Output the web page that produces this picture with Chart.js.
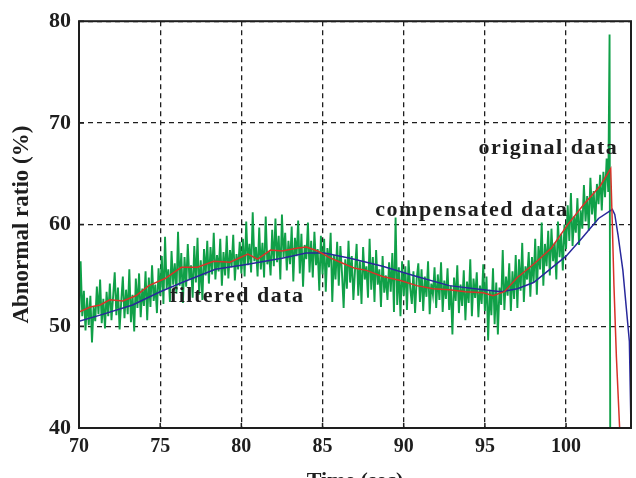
<!DOCTYPE html>
<html>
<head>
<meta charset="utf-8">
<script src="https://cdn.jsdelivr.net/npm/chart.js@4/dist/chart.umd.min.js"></script>
<style>
  html, body { margin: 0; padding: 0; background: #fff; overflow: hidden; }
  #wrap { width: 636px; height: 499px; }
</style>
</head>
<body>
<div id="wrap"><canvas id="myChart"></canvas></div>
<script>
let greenStart = 70;
let greenStep = 0.1;
let greenValues = [
  50.2, 56.4, 51.0, 53.5, 49.6, 52.8, 50.1, 53.0, 48.4, 51.9,
  50.5, 53.9, 51.2, 54.6, 50.3, 52.7, 49.8, 53.4, 51.0, 54.2,
  50.6, 52.9, 55.3, 51.1, 53.8, 49.7, 52.4, 54.9, 50.8, 53.6,
  51.2, 55.6, 50.4, 53.1, 49.5, 54.7, 51.8, 55.2, 50.9, 53.7,
  52.0, 55.4, 50.6, 54.8, 51.9, 56.0, 52.5, 54.1, 51.3, 55.7,
  53.0, 56.9, 52.2, 58.8, 53.7, 55.6, 52.4, 57.4, 54.1, 56.2,
  53.2, 59.3, 54.0, 57.2, 52.3, 56.8, 53.9, 58.1, 54.6, 56.0,
  52.8, 57.9, 54.3, 58.7, 53.1, 56.5, 52.6, 57.6, 55.0, 58.4,
  54.2, 57.8, 55.1, 59.2, 54.6, 57.0, 55.4, 58.6, 54.0, 57.3,
  55.0, 58.9, 54.7, 57.5, 55.8, 59.0, 54.5, 57.1, 55.6, 58.3,
  55.2, 58.6, 54.9, 60.3, 56.0, 58.1, 55.3, 61.2, 56.4, 57.8,
  54.9, 59.7, 55.6, 58.2, 54.8, 60.8, 56.1, 57.4, 55.0, 59.5,
  55.9, 60.6, 56.3, 58.9, 54.6, 61.0, 56.8, 59.2, 55.5, 58.4,
  56.1, 59.8, 54.4, 58.7, 56.9, 60.4, 55.2, 59.1, 53.9, 58.0,
  56.6, 60.2, 55.3, 58.4, 54.8, 59.3, 56.0, 57.6, 53.5, 58.9,
  55.1, 58.6, 53.4, 57.7, 55.8, 59.2, 52.4, 57.0, 54.6, 58.3,
  54.0, 57.9, 55.2, 51.8, 56.6, 53.7, 58.4, 54.3, 56.9, 52.6,
  55.5, 58.1, 53.0, 56.4, 52.2, 57.8, 54.6, 55.9, 52.8, 58.6,
  53.6, 56.8, 52.4, 57.5, 54.1, 55.6, 51.9, 56.9, 53.3, 55.0,
  52.6, 56.3, 53.4, 57.2, 51.4, 60.7, 52.1, 55.8, 51.0, 56.4,
  53.0, 55.9, 51.6, 56.5, 53.8, 52.2, 55.4, 51.3, 54.7, 56.2,
  52.4, 55.6, 51.5, 54.9, 52.9, 56.4, 51.2, 54.2, 53.1, 55.8,
  51.8, 55.1, 52.6, 56.3, 51.4, 54.5, 52.7, 55.7, 51.6, 54.0,
  49.2, 54.8, 52.5, 56.0, 51.3, 54.1, 52.0, 55.5, 50.6, 54.4,
  52.3, 56.6, 51.0, 54.7, 52.8, 55.3, 50.9, 54.0, 52.2, 56.1,
  51.5, 54.9, 48.6, 53.6, 51.1, 55.7, 50.2, 54.3, 49.2, 53.8,
  52.1, 57.5, 51.6, 54.9, 53.0, 56.2, 51.5, 55.4, 52.7, 57.0,
  51.8, 56.6, 53.5, 58.2, 52.4, 55.9, 54.6, 57.3, 52.9, 56.8,
  54.3, 58.6, 53.1, 57.9, 55.6, 60.2, 54.0, 58.1, 55.9, 59.4,
  55.0, 59.6, 56.4, 58.2, 54.6, 60.3, 56.8, 59.1, 55.5, 60.0,
  57.6, 61.9, 58.4, 63.1, 57.9, 60.8, 59.2, 62.6, 58.0, 61.4,
  59.6, 63.9, 60.3, 62.8, 59.4, 64.6, 61.0, 63.3, 60.1, 64.0,
  62.0, 64.9, 61.4, 65.2, 62.7, 66.5, 63.2
];
// the spike and drop at the end of the original record
let greenTailTimes = [102.68, 102.72];
let greenTailValues = [78.7, 40.0];

// compensated data
let redTimes = [70, 70.7, 71.3, 71.9, 72.7, 73.5, 74.3, 75.3, 76.3, 77.3, 78.3, 79.3, 80.4, 81.0, 81.8, 82.5,
  83.5, 84.0, 84.7, 85.5, 86.1, 87.0, 87.7, 88.7, 89.8, 90.8, 91.8, 92.8, 93.8, 94.9, 95.5, 96.2, 97.0,
  98.0, 99.1, 100.1, 101.1, 102.1, 102.75, 102.85, 102.95, 103.1, 103.3];
let redValues = [51.4, 51.9, 52.1, 52.6, 52.5, 53.0, 54.0, 54.7, 55.8, 55.8, 56.4, 56.3, 57.1, 56.6, 57.5, 57.4,
  57.7, 57.8, 57.4, 56.7, 56.3, 55.7, 55.5, 54.9, 54.5, 54.0, 53.7, 53.6, 53.4, 53.3, 53.0, 53.4, 54.8,
  56.1, 57.7, 60.0, 62.0, 63.8, 65.5, 60.0, 54.0, 47.0, 40.0];

// filtered data
let blueTimes = [70, 71.3, 73.3, 75, 76.5, 78.4, 80.4, 82.5, 84, 85.1, 86.7, 88.7, 90.8, 92.8, 94.9, 96, 97,
  98, 99, 100, 101, 102, 102.85, 103.0, 103.2, 103.5, 103.7, 103.9, 104.0];
let blueValues = [50.5, 51.1, 52.1, 53.4, 54.4, 55.6, 56.1, 56.7, 57.2, 57.2, 56.7, 55.9, 54.9, 54.0, 53.6, 53.4, 53.7,
  54.3, 55.6, 56.9, 58.7, 60.6, 61.5, 61.0, 59.0, 55.5, 52.0, 48.5, 40.0];

let xTicks = [70, 75, 80, 85, 90, 95, 100];
let yTicks = [40, 50, 60, 70, 80];

// text labels placed in data units
let notes = [
  {text: 'original data', x: 94.6, y: 67.5},
  {text: 'compensated data', x: 88.25, y: 61.4},
  {text: 'filtered data', x: 75.6, y: 52.9}
];

function toPoints(ts, vs) {
  let pts = [];
  for (let i = 0; i < vs.length; i++) pts.push({x: ts[i], y: vs[i]});
  return pts;
}

let greenPoints = [];
for (let i = 0; i < greenValues.length; i++) {
  greenPoints.push({x: greenStart + i * greenStep, y: greenValues[i]});
}
greenPoints = greenPoints.concat(toPoints(greenTailTimes, greenTailValues));

const serif = '"Liberation Serif", "Times New Roman", serif';
const ink = '#1e1e1e';

// solid frame, inner ticks and text labels
const framePlugin = {
  id: 'frame',
  afterDatasetsDraw(chart) {
    const {ctx, chartArea: a, scales: {x, y}} = chart;
    ctx.save();
    ctx.strokeStyle = ink;
    ctx.lineWidth = 1.5;
    ctx.beginPath();
    xTicks.forEach(t => {
      let px = x.getPixelForValue(t);
      ctx.moveTo(px, a.bottom); ctx.lineTo(px, a.bottom - 5);
    });
    yTicks.forEach(t => {
      let py = y.getPixelForValue(t);
      ctx.moveTo(a.left, py); ctx.lineTo(a.left + 5, py);
    });
    ctx.stroke();
    ctx.lineWidth = 2;
    ctx.strokeRect(a.left, a.top, a.right - a.left, a.bottom - a.top);

    ctx.fillStyle = ink;
    ctx.font = 'bold 22px ' + serif;
    ctx.letterSpacing = '1.5px';
    ctx.textBaseline = 'middle';
    ctx.textAlign = 'left';
    notes.forEach(n => {
      ctx.fillText(n.text, x.getPixelForValue(n.x), y.getPixelForValue(n.y));
    });
    ctx.restore();
  }
};

let ctx = document.getElementById('myChart');

// first dataset is drawn on top
new Chart(ctx, {
  type: 'line',
  data: {
    datasets: [
      {label: 'compensated data', data: toPoints(redTimes, redValues), borderColor: 'rgb(215,50,40)', borderWidth: 1.5},
      {label: 'filtered data', data: toPoints(blueTimes, blueValues), borderColor: 'rgb(40,40,155)', borderWidth: 1.5},
      {label: 'original data', data: greenPoints, borderColor: 'rgb(16,160,72)', borderWidth: 1.9}
    ]
  },
  options: {
    responsive: true,
    maintainAspectRatio: false,
    animation: false,
    elements: {point: {radius: 0}, line: {tension: 0}},
    plugins: {legend: {display: false}, tooltip: {enabled: false}},
    layout: {padding: {left: 0, top: 19, right: 5, bottom: 0}},
    scales: {
      x: {
        type: 'linear',
        min: 70,
        max: 104,
        afterFit(s) { s.height = 71; },
        afterBuildTicks(s) { s.ticks = xTicks.map(v => ({value: v})); },
        border: {display: false, dash: [5, 4]},
        grid: {color: ink, lineWidth: 1.3, drawTicks: false},
        ticks: {color: ink, padding: 7, font: {family: serif, size: 20, weight: 'bold'}},
        title: {display: true, text: 'Time (sec)', color: ink, padding: {bottom: 4},
          font: {family: serif, size: 22, weight: 'bold'}}
      },
      y: {
        min: 40,
        max: 80,
        afterFit(s) { s.width = 79; },
        afterBuildTicks(s) { s.ticks = yTicks.map(v => ({value: v})); },
        border: {display: false, dash: [5, 4]},
        grid: {color: ink, lineWidth: 1.3, drawTicks: false},
        ticks: {color: ink, padding: 8, font: {family: serif, size: 22, weight: 'bold'}},
        title: {display: true, text: 'Abnormal ratio (%)', color: ink, padding: {top: 8},
          font: {family: serif, size: 23, weight: 'bold'}}
      }
    }
  },
  plugins: [framePlugin]
});
</script>
</body>
</html>
